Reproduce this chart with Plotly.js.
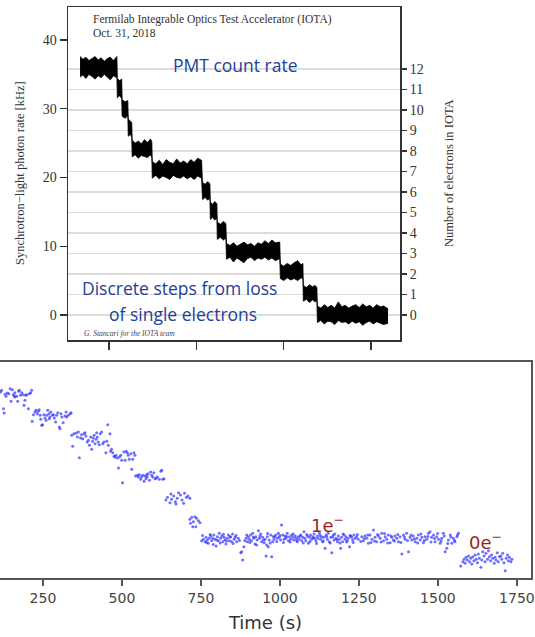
<!DOCTYPE html>
<html>
<head>
<meta charset="utf-8">
<script src="https://cdn.plot.ly/plotly-3.0.1.min.js"></script>
<style>html,body{margin:0;padding:0;background:#fff;}#chart{width:535px;height:637px;}</style>
</head>
<body>
<div id="chart"></div>
<script>
// ---------- Top panel: PMT count rate (noise envelope of the trace) ----------
const topTime = [6.68,7.0,7.35,7.7,8.05,8.4,8.75,9.1,9.45,9.8,10.15,10.5,10.9,
  10.95,11.2,11.45,
  11.5,11.85,12.15,
  12.2,12.45,12.6,
  12.65,13.0,13.35,13.7,14.05,14.4,14.75,14.9,
  14.95,15.35,15.75,16.15,16.55,16.95,17.35,17.75,18.15,18.55,18.95,19.35,19.75,20.15,20.6,
  20.7,21.0,21.3,21.55,
  21.6,21.85,22.1,22.35,
  22.4,22.75,23.1,23.38,
  23.45,23.85,24.25,24.65,25.05,25.45,25.85,26.25,26.65,27.05,27.45,27.85,28.25,28.65,29.05,29.55,
  29.62,30.0,30.4,30.8,31.2,31.6,32.0,32.2,
  32.25,32.6,32.95,33.3,33.6,33.8,
  33.86,34.25,34.65,35.05,35.45,35.85,36.25,36.65,37.05,37.45,37.85,38.25,38.65,39.05,39.45,39.85,40.25,40.65,41.05,41.45,41.95];
const topRateHigh = [37.6,37.2,37.5,37.0,37.3,37.6,37.1,37.4,36.9,37.3,37.5,37.0,37.6,
  34.4,34.1,34.3,
  31.3,31.0,31.2,
  28.5,28.2,28.0,
  25.4,25.0,25.3,24.9,25.5,25.1,25.6,25.2,
  22.3,22.0,22.5,21.9,22.6,22.2,22.0,22.7,22.1,22.4,22.0,22.6,22.2,22.8,22.5,
  19.3,19.0,19.4,19.1,
  16.4,16.1,16.5,16.2,
  13.5,13.2,13.6,13.3,
  10.4,10.1,10.5,10.0,10.3,10.6,10.2,10.4,10.0,10.5,10.3,10.8,10.4,10.9,10.5,10.6,
  7.4,7.1,7.5,7.2,7.6,7.9,7.3,7.5,
  4.3,4.0,4.4,4.1,4.3,4.0,
  1.3,1.0,1.5,1.1,1.4,1.0,1.9,1.2,1.4,1.0,1.3,1.5,1.1,1.6,1.2,1.4,1.0,1.5,1.2,1.3,0.9];
const topRateLow = [34.6,34.9,34.4,35.0,34.7,34.3,34.8,34.5,35.0,34.6,34.2,34.8,34.5,
  31.6,31.9,31.5,
  28.9,28.6,29.0,
  26.0,26.3,25.8,
  23.0,23.3,22.8,23.2,23.0,22.9,23.3,22.9,
  19.9,20.3,19.8,20.2,20.0,19.7,20.3,20.0,19.9,20.2,19.8,20.1,19.7,20.2,19.9,
  16.8,17.1,16.7,17.0,
  13.9,14.2,13.8,14.1,
  11.0,11.3,10.9,11.2,
  8.1,8.4,7.7,8.3,8.0,7.6,8.2,8.4,7.9,8.3,8.1,8.4,8.0,8.3,7.9,8.2,
  5.3,5.0,5.4,5.1,5.3,5.0,5.4,5.2,
  2.0,2.3,1.8,2.2,1.9,2.1,
  -1.1,-0.8,-1.3,-0.9,-1.0,-1.4,-0.8,-1.1,-1.0,-1.3,-0.9,-1.2,-1.0,-1.5,-1.1,-0.9,-1.3,-1.0,-1.2,-1.4,-1.2];
const rateTicks = [0,10,20,30,40];
const electronTicks = [0,1,2,3,4,5,6,7,8,9,10,11,12];
const topTimeTicks = [10,20,30,40];

// ---------- Bottom panel: signal vs time ----------
const scanTime = [
  116,119,125,127,130,133,137,142,146,149,153,156,159,161,161,167,170,173,175,179,183,188,190,193,196,198,204,207,211,214,
  216,220,225,228,232,235,238,241,243,246,249,253,256,260,262,265,269,270,272,275,280,283,286,290,293,297,302,304,307,310,314,320,323,325,330,336,339,
  341,344,348,355,359,362,365,369,372,376,380,383,386,390,394,397,401,404,407,409,412,415,418,420,422,425,428,431,436,439,443,449,452,455,457,462,464,467,
  471,475,478,481,485,489,492,496,499,502,506,510,513,517,520,523,528,531,534,538,541,
  543,549,552,555,559,562,566,570,573,576,578,580,583,587,591,594,597,601,605,608,612,618,623,626,629,633,
  639,644,652,655,657,664,669,671,675,679,685,690,695,698,704,709,715,
  715,717,721,724,726,731,734,736,742,747,
  752,758,763,766,770,773,776,781,784,787,791,794,798,802,805,808,812,816,819,823,826,829,833,837,840,844,847,850,855,858,863,868,876,879,882,886,889,893,897,900,903,907,910,914,918,921,924,928,932,935,939,942,945,950,953,956,958,960,963,966,971,974,977,981,984,987,992,995,998,
  1002,1005,1009,1013,1016,1019,1023,1027,1030,1034,1037,1040,1044,1048,1051,1055,1058,1061,1066,1069,1072,1076,1079,1082,1087,1090,1093,1097,1100,1104,1108,1111,1114,1118,1121,1125,1129,1132,1135,1139,1143,1146,1150,1153,1156,1161,1164,1167,1171,1174,1177,1182,1185,1188,1192,1195,1198,1203,1206,1209,1213,1216,1220,1224,1227,1230,1234,1238,1243,1248,
  1259,1264,1269,1275,1280,1285,1291,1296,1301,1306,1312,1317,1322,1328,1333,1338,1343,1349,1354,1359,1364,1370,1375,1380,1386,1391,1396,1401,1407,1412,1417,1422,1428,1433,1438,1444,1449,1454,1459,1465,1470,1475,1480,1486,1491,1496,1502,1507,1512,1517,1523,1528,1533,1539,1544,1549,1554,1560,1565,
  755,768,779,789,800,811,821,831,842,852,861,872,895,905,916,926,937,948,961,969,979,990,1000,1011,1021,1032,1042,1053,1064,1074,1085,1095,1106,1116,1127,1137,1148,1159,1169,1180,1190,1200,1211,1222,1232,1245,1256,1267,1278,1288,1299,1309,1320,1331,1341,1352,1362,1373,1383,1394,1404,1415,1425,1436,1446,1457,1468,1478,1489,1499,1510,1520,1531,1541,1552,1562,
  1572,1579,1583,1586,1589,1593,1597,1600,1604,1607,1610,1614,1618,1621,1625,1628,1631,1636,1639,1642,1646,1649,1652,1657,1660,1663,1667,1670,1674,1678,1681,1684,1688,1691,1695,1699,1702,1705,1709,1713,1716,1720,1723,1726,1731,1734];
const scanSignal = [
  170,171.7,153.3,149,167.7,165.7,169,168.3,173.3,160.7,172.3,167.3,166,169.3,165,165.7,160.7,170.7,171.7,166.7,169.3,167.3,156.7,161.7,166.7,167.3,153.3,168.3,169.3,171.7,
  140.7,147.3,150,151.7,148.3,150.7,152.3,146.7,142.7,136.7,137.3,147.3,144,141.7,146.7,151.7,148.3,143.3,145,150,146.7,147.3,144,140,146.7,149.3,135,133.3,148.3,145,139.3,146,150,145,146.7,148.3,149.3,
  126.7,115.7,128.3,129,125,130,104.3,124,127.3,123.3,128.3,129.3,126,120,121.7,116.7,125,112.7,120.7,124,126.7,118.3,122.7,129.3,125,120,117.3,128.3,130,118.3,120,109.3,120.7,137.3,116.7,128.3,110.7,112.7,
  109.3,105.7,105,106.7,104,94,105,106.7,101.7,79.3,110,101.7,110.7,109.3,106.7,102.7,108.3,92.7,102.7,109.3,106.7,
  86,86.7,85,87.3,82.7,85,86.7,80.7,86,83.3,87.3,85,88.3,81.7,90,86.7,85,89.3,83.3,84,85,82.7,90.7,91.7,82.7,83.3,
  62,64.7,59.3,68,62.7,66,60.3,58,63.7,69.3,67,62,58.7,68.7,64.7,66,63.7,
  42.7,38.7,44.7,35.3,40.3,45.3,35.3,43.7,41.3,39.3,
  21.3,22.7,20.3,24.7,22,18.7,23.7,26,21.3,23.7,27,22.7,16,25.3,21.3,28.7,23.7,26,20.3,24.7,22,18,23.7,27,21.3,25.3,20.3,28,22.7,24.7,20.3,23.7,9.3,10.3,2,15.3,21.3,23.7,20.3,25.3,22.7,27,21.3,28.7,23.7,18,25.3,22,31.3,23.7,28,20.3,24.7,19.3,22.7,6,17,25.3,15.3,22,27,5.3,20.3,22.7,25.3,27,23.7,28.7,24.7,
  22,37,27,22.7,26,23.7,28.7,21.3,25.3,22.7,27,24.7,22,26,23.7,20.3,25.3,22.7,27,21.3,24.7,30.3,23.7,21.3,26,18.7,24.7,27,22.7,25.3,28,23.7,21.3,26,23.7,28.7,22.7,25.3,20.3,24.7,13.7,27,22.7,28.7,20.3,24.7,9.3,25.3,22,28,23.7,20.3,26,22.7,13.7,24.7,20.3,27,22.7,25.3,21.3,23.7,15.3,26,24.7,22,27,23.7,25.3,22.7,
  25.3,21.3,26,23.7,18.7,27,22.7,32,24.7,20.3,26,23.7,28.7,21.3,25.3,22.7,27,19.3,24.7,22,26,23.7,20.3,25.3,8,27,22.7,28.7,10.3,24.7,22,26,20.3,23.7,27,22,24.7,19.3,25.3,22.7,28.7,30.3,24.7,27,20.3,25.3,22.7,18.7,23.7,28.7,10.3,13.7,22,27,18.7,23.7,20.3,25.3,28.7,
  26.5,19.5,27.5,17.5,22,19,27.8,21,25,18.5,26.5,21.5,27,19.5,25,17,26,22,28.5,19,25.5,20.5,26.5,19.5,25.5,20,28,21.5,26,19,27.5,20.5,24,18.5,26.5,21,25.5,19,27,22.5,19,28,20,26.5,19.5,27.5,20.5,23.5,27,19.5,21,27.5,20,28.5,19,26,21,27.5,19.5,25,21.5,27,23,19,28,21.5,25.5,20,23.5,28.5,21,26,18.5,25,21.5,27,
  -4,0.3,2.7,-1.3,4.7,2,6,0.3,3.7,-2,5.3,1.3,7,2.7,-0.7,8,3.7,-5.3,2,10.3,6,0.3,8.7,2.7,11.3,5.3,1.3,7,3.7,-1.3,4.7,2,9.3,0.3,5.3,6,2.7,8.7,-0.7,-8.7,3.7,7,1.3,4.7,0.3,2.7];
const timeTicks = [250,500,750,1000,1250,1500,1750];

const serif = 'Liberation Serif, Times New Roman, serif';
const sans = 'DejaVu Sans, sans-serif';
const blueText = '#233f98';
const W = 535, H = 637;
const px = v => v / W;
const py = v => 1 - v / H;

const traces = [
  {x: topTime, y: topRateHigh, xaxis: 'x', yaxis: 'y', mode: 'lines',
   line: {color: '#000', width: 0.8}, hoverinfo: 'skip', showlegend: false},
  {x: topTime, y: topRateLow, xaxis: 'x', yaxis: 'y', mode: 'lines', fill: 'tonexty',
   fillcolor: '#000', line: {color: '#000', width: 0.8}, hoverinfo: 'skip', showlegend: false},
  // registers the right-hand electron-count axis (draws nothing)
  {x: [], y: [], xaxis: 'x', yaxis: 'y2', mode: 'markers', hoverinfo: 'skip', showlegend: false},
  {x: scanTime, y: scanSignal, xaxis: 'x2', yaxis: 'y3', mode: 'markers',
   marker: {color: 'rgba(50,50,255,0.7)', size: 3}, hoverinfo: 'skip', showlegend: false}
];

const layout = {
  width: W, height: H,
  margin: {l: 0, r: 0, t: 0, b: 0},
  paper_bgcolor: '#fff', plot_bgcolor: 'rgba(0,0,0,0)',
  showlegend: false,
  xaxis: {domain: [px(68), px(400)], anchor: 'y', range: [5.30, 43.32],
    tickvals: topTimeTicks, showticklabels: false, ticks: 'outside', ticklen: 8, tickwidth: 1.2,
    tickcolor: '#333', showgrid: false, zeroline: false,
    showline: true, mirror: true, linecolor: '#333', linewidth: 1.5},
  yaxis: {domain: [py(340), py(7)], anchor: 'x', range: [-3.64, 44.8],
    tickvals: rateTicks, ticks: 'outside', ticklen: 7, tickwidth: 1.2, tickcolor: '#333',
    tickfont: {family: serif, size: 14, color: '#333'},
    showgrid: false, zeroline: false, showline: true, mirror: true, linecolor: '#333', linewidth: 1.5},
  yaxis2: {overlaying: 'y', side: 'right', anchor: 'x', range: [-1.22, 15.02],
    tickvals: electronTicks, ticks: 'outside', ticklen: 6, tickwidth: 1.2, tickcolor: '#333',
    tickfont: {family: serif, size: 14, color: '#333'},
    showgrid: true, gridcolor: '#dcdcdc', gridwidth: 1.5, zeroline: false, showline: false},
  xaxis2: {domain: [0, px(531)], anchor: 'y3', range: [114, 1794.6],
    tickvals: timeTicks, ticks: 'outside', ticklen: 6, tickwidth: 1.2, tickcolor: '#555',
    tickfont: {family: sans, size: 14, color: '#444'},
    title: {text: 'Time (s)', font: {family: sans, size: 18, color: '#333'}, standoff: 12},
    showgrid: false, zeroline: false, showline: true, mirror: true, linecolor: '#555', linewidth: 2},
  yaxis3: {domain: [py(578), py(362)], anchor: 'x2', side: 'right', range: [-16, 200],
    showticklabels: false, ticks: '', showgrid: false, zeroline: false,
    showline: true, linecolor: '#555', linewidth: 2},
  annotations: [
    {xref: 'paper', yref: 'paper', x: px(91), y: py(20), xanchor: 'left', yanchor: 'middle', showarrow: false,
     text: 'Fermilab Integrable Optics Test Accelerator (IOTA)', font: {family: serif, size: 11.5, color: '#333'}},
    {xref: 'paper', yref: 'paper', x: px(91), y: py(33), xanchor: 'left', yanchor: 'middle', showarrow: false,
     text: 'Oct. 31, 2018', font: {family: serif, size: 11.5, color: '#333'}},
    {xref: 'paper', yref: 'paper', x: px(235.5), y: py(65), xanchor: 'center', yanchor: 'middle', showarrow: false,
     text: 'PMT count rate', font: {family: 'Open Sans, sans-serif', size: 17.5, color: blueText}},
    {xref: 'paper', yref: 'paper', x: px(179.5), y: py(288), xanchor: 'center', yanchor: 'middle', showarrow: false,
     text: 'Discrete steps from loss', font: {family: 'Open Sans, sans-serif', size: 17.5, color: blueText}},
    {xref: 'paper', yref: 'paper', x: px(182.5), y: py(314), xanchor: 'center', yanchor: 'middle', showarrow: false,
     text: 'of single electrons', font: {family: 'Open Sans, sans-serif', size: 17.5, color: blueText}},
    {xref: 'paper', yref: 'paper', x: px(82), y: py(333), xanchor: 'left', yanchor: 'middle', showarrow: false,
     text: '<i>G. Stancari for the IOTA team</i>', font: {family: serif, size: 7.5, color: '#444'}},
    {xref: 'paper', yref: 'paper', x: px(20), y: py(173), xanchor: 'center', yanchor: 'middle', showarrow: false,
     textangle: -90, text: 'Synchrotron\u2212light photon rate [kHz]', font: {family: serif, size: 12.5, color: '#333'}},
    {xref: 'paper', yref: 'paper', x: px(449), y: py(173), xanchor: 'center', yanchor: 'middle', showarrow: false,
     textangle: -90, text: 'Number of electrons in IOTA', font: {family: serif, size: 12.5, color: '#333'}},
    {xref: 'x2', yref: 'y3', x: 1152, y: 38, xanchor: 'center', yanchor: 'middle', showarrow: false,
     text: '1e<sup>\u2212</sup>', font: {family: sans, size: 18, color: '#9e1f1f'}},
    {xref: 'x2', yref: 'y3', x: 1652, y: 21, xanchor: 'center', yanchor: 'middle', showarrow: false,
     text: '0e<sup>\u2212</sup>', font: {family: sans, size: 18, color: '#9e1f1f'}}
  ]
};

Plotly.newPlot('chart', traces, layout, {displayModeBar: false, staticPlot: true});
</script>
</body>
</html>
